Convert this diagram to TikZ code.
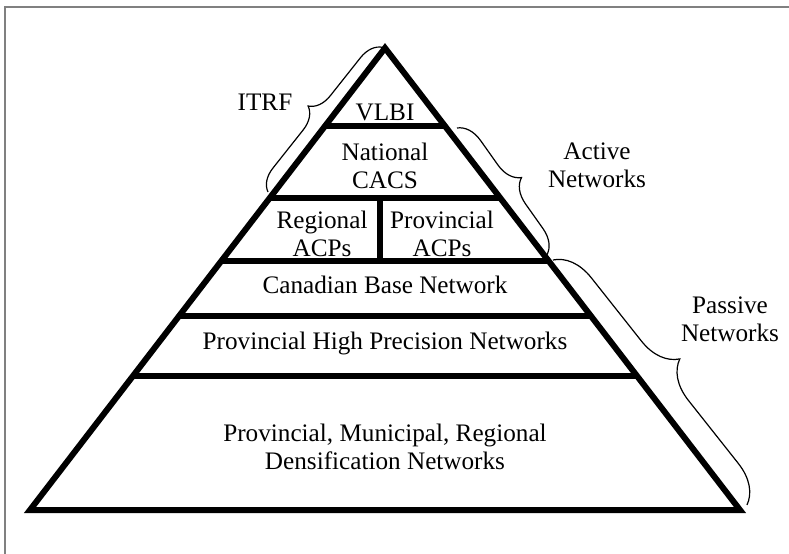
\documentclass[tikz,border=0pt]{standalone}
\usepackage{fontspec}
\setmainfont{Liberation Serif}
\usetikzlibrary{calc}
\usetikzlibrary{decorations.pathreplacing}

\begin{document}
\begin{tikzpicture}[x=0.5pt,y=0.5pt,
  every node/.style={align=center,font=\fontsize{12.6}{14}\selectfont,inner sep=0pt},
  layer/.style={line width=3pt},
  bracket/.style={decorate,decoration={brace,amplitude=#1},line width=0.6pt}]
\useasboundingbox (0,0) rectangle (789,553);

%frame
\draw[gray,line width=1pt] (5,-10) -- (5,546) -- (800,546);

%pyramid
\coordinate (apex) at (385,505);
\coordinate (bl) at (30,43);
\coordinate (br) at (740,43);
\draw[layer,line join=miter] (apex) -- (bl) -- (br) -- cycle;

%levels
\foreach \t [count=\i] in {0.169,0.325,0.461,0.580,0.710}
	{\coordinate (l\i) at ($(apex)!\t!(bl)$);
	\coordinate (r\i) at ($(apex)!\t!(br)$);
	\draw[layer] (l\i) -- (r\i);}
\coordinate (div) at (380,0);
\draw[layer] (div |- l2) -- (div |- l3);

%labels inside
\node (vlbi) at (385,441) {VLBI};
\node (cacs) at (385,387) {National\\CACS};
\node (racp) at (322,319) {Regional\\ACPs};
\node (pacp) at (442,319) {Provincial\\ACPs};
\node (cbn) at (385,268) {Canadian Base Network};
\node (hpn) at (385,210) {Provincial High Precision Networks};
\node (dens) at (385,106) {Provincial, Municipal, Regional\\Densification Networks};

%labels outside
\node (itrf) at (265,451) {ITRF};
\node (active) at (597,388) {Active\\Networks};
\node (passive) at (730,234) {Passive\\Networks};

%braces
\coordinate (itrfa) at (268,361);
\coordinate (itrfb) at (383,506);
\coordinate (acta) at (457,425);
\coordinate (actb) at (547,298);
\coordinate (pasa) at (553,293);
\coordinate (pasb) at (747,48);
\draw[bracket=11pt] (itrfa) -- (itrfb);
\draw[bracket=12pt] (acta) -- (actb);
\draw[bracket=19pt] (pasa) -- (pasb);
\end{tikzpicture}
\end{document}
